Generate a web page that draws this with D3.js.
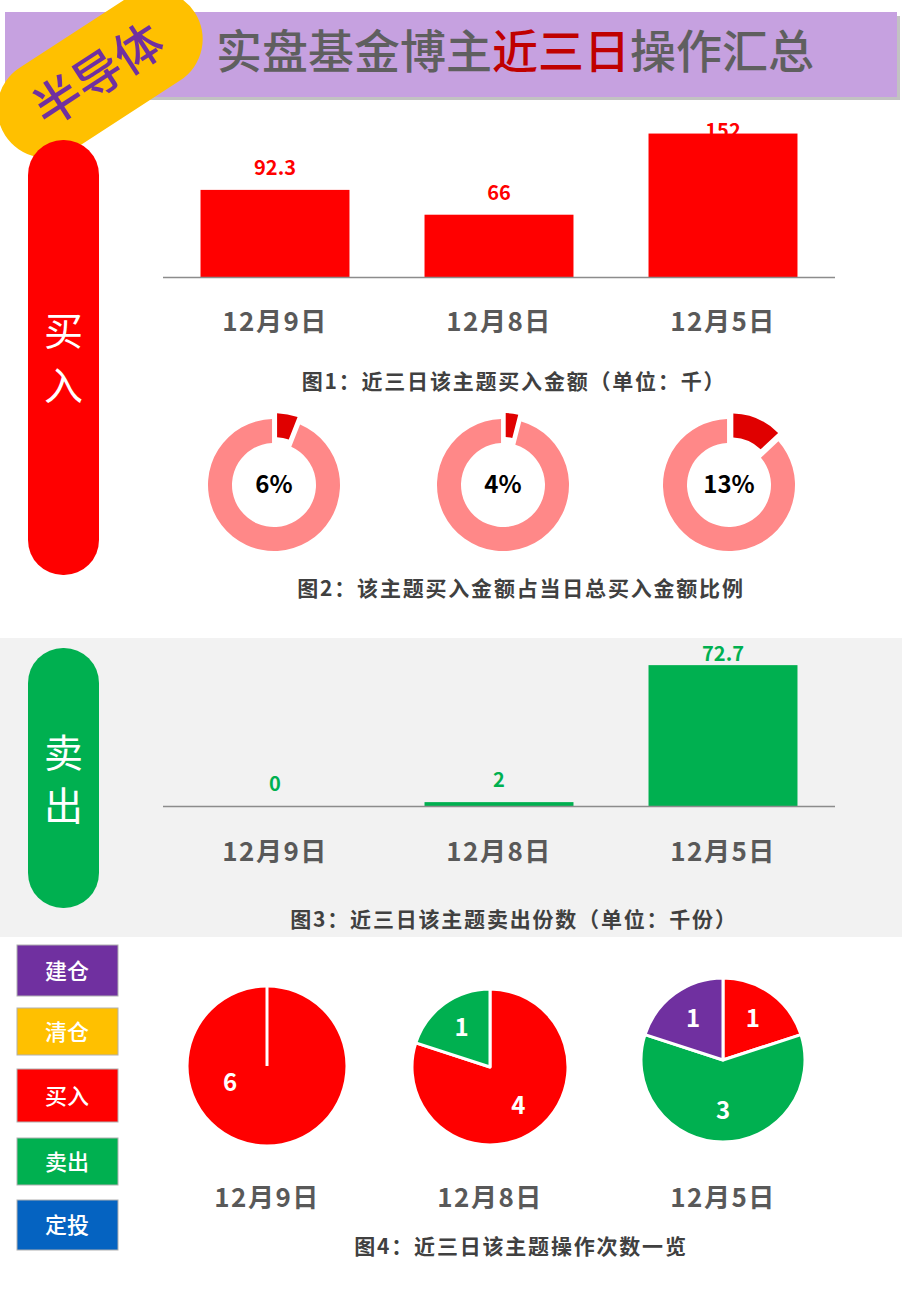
<!DOCTYPE html>
<html><head><meta charset="utf-8">
<script src="https://cdn.jsdelivr.net/npm/d3@7/dist/d3.min.js"></script>
<style>body{margin:0;background:#fff}svg{display:block}text{font-family:"Noto Sans CJK SC","Noto Sans",sans-serif}</style>
</head><body>
<svg id="c" width="902" height="1296"></svg>
<script>
const dates = ["12月9日","12月8日","12月5日"];
const buyAmount = [92.3, 66, 152];
const buyRatio = [6, 4, 13];
const sellAmount = [0, 2, 72.7];
const opTypes = ["建仓","清仓","买入","卖出","定投"];
const opColors = ["#7030A0","#FFC000","#FF0000","#00B050","#0563C1"];
const opCounts = [
  {"买入":6},
  {"买入":4,"卖出":1},
  {"买入":1,"卖出":3,"建仓":1}
];
const pieOrder = ["买入","卖出","清仓","定投","建仓"];
const captions = ["图1：近三日该主题买入金额（单位：千）","图2：该主题买入金额占当日总买入金额比例","图3：近三日该主题卖出份数（单位：千份）","图4：近三日该主题操作次数一览"];

const svg = d3.select("#c");
const grey = "#595959";

// sell section background
svg.append("rect").attr("x",0).attr("y",638).attr("width",902).attr("height",299).attr("fill","#F2F2F2");

// header
svg.append("rect").attr("x",9).attr("y",16).attr("width",891).attr("height",84).attr("fill","#9a9a9a").attr("opacity",0.6);
svg.append("rect").attr("x",5).attr("y",12).attr("width",892).attr("height",85).attr("fill","#C6A1E0");
const title = svg.append("text").attr("x",216).attr("y",68).attr("font-size",46).attr("font-weight",500).attr("fill","#5F5F5F");
title.append("tspan").text("实盘基金博主");
title.append("tspan").attr("fill","#C00000").text("近三日");
title.append("tspan").text("操作汇总");

// yellow tag
const tag = svg.append("g").attr("transform","translate(100,74) rotate(-33)");
tag.append("rect").attr("x",-113).attr("y",-49).attr("width",226).attr("height",98).attr("rx",49).attr("fill","#FFC000");
tag.append("text").attr("text-anchor","middle").attr("x",-2).attr("y",17).attr("font-size",48).attr("font-weight",500).attr("fill","#7030A0").text("半导体");

// side pills
function pill(y, h, color, label, t1, t2){
  svg.append("rect").attr("x",28).attr("y",y).attr("width",71).attr("height",h).attr("rx",35).attr("fill",color);
  svg.append("text").attr("x",63.5).attr("y",t1).attr("text-anchor","middle").attr("font-size",39).attr("fill","#fff").text(label[0]);
  svg.append("text").attr("x",63.5).attr("y",t2).attr("text-anchor","middle").attr("font-size",39).attr("fill","#fff").text(label[1]);
}
pill(140, 435, "#FF0000", "买入", 345, 400);
pill(648, 260, "#00B050", "卖出", 767, 820);

// bar charts
const x = d3.scaleBand().domain(dates).range([163,835]).paddingInner(0.335).paddingOuter(0.1675);
function barChart(values, base, yMax, topPx, color, minLabel, catY){
  const y = d3.scaleLinear().domain([0,yMax]).range([base, topPx]);
  const g = svg.append("g");
  g.selectAll("rect.bar").data(values).join("rect")
    .attr("x",(d,i)=>x(dates[i])).attr("width",x.bandwidth())
    .attr("y",d=>y(d)).attr("height",d=>base-y(d)).attr("fill",color);
  g.append("line").attr("x1",163).attr("x2",835).attr("y1",base+0.5).attr("y2",base+0.5).attr("stroke","#8c8c8c").attr("stroke-width",1.5);
  g.selectAll("text.v").data(values).join("text")
    .attr("x",(d,i)=>x(dates[i])+x.bandwidth()/2).attr("y",d=>Math.max(y(d)-15,minLabel))
    .attr("text-anchor","middle").attr("font-size",20).attr("font-weight",700).attr("fill",color).text(d=>d);
  g.selectAll("text.c").data(dates).join("text")
    .attr("x",d=>x(d)+x.bandwidth()/2).attr("y",catY)
    .attr("text-anchor","middle").attr("font-size",26).attr("letter-spacing",1.5).attr("font-weight",700).attr("fill",grey).text(d=>d);
}
barChart(buyAmount, 277, 160, 126, "#FF0000", 138, 331);
barChart(sellAmount, 806, 80, 651, "#00B050", 661, 861);

function caption(txt, cx, y){
  svg.append("text").attr("x",cx).attr("y",y).attr("text-anchor","middle").attr("font-size",21).attr("letter-spacing",1.8).attr("font-weight",700).attr("fill","#404040").text(txt);
}
caption(captions[0], 514, 389);
caption(captions[1], 521, 596);
caption(captions[2], 514, 927);
caption(captions[3], 521, 1254);

// donuts
const donutCx = [274, 503, 729];
const arcOuter = d3.arc().innerRadius(42).outerRadius(66).padAngle(0.05);
buyRatio.forEach((p,i)=>{
  const g = svg.append("g").attr("transform",`translate(${donutCx[i]},485)`);
  const pie = d3.pie().sort(null)([p, 100-p]);
  const mid = (pie[0].startAngle+pie[0].endAngle)/2;
  g.append("path").attr("d",arcOuter(pie[1])).attr("fill","#FF8888");
  g.append("path").attr("d",arcOuter(pie[0])).attr("fill","#E00000")
    .attr("transform",`translate(${Math.sin(mid)*6},${-Math.cos(mid)*6})`);
  g.append("text").attr("y",8).attr("text-anchor","middle").attr("font-size",24).attr("font-weight",700).attr("fill","#000").text(p+"%");
});

// legend
const legY = [945, 1008, 1069, 1138, 1200];
const legH = [51, 47, 53, 47, 50];
opTypes.forEach((t,i)=>{
  svg.append("rect").attr("x",17).attr("y",legY[i]).attr("width",101).attr("height",legH[i]).attr("fill",opColors[i]).attr("stroke","#b0b0b0").attr("stroke-width",1);
  svg.append("text").attr("x",67).attr("y",legY[i]+legH[i]/2+8).attr("text-anchor","middle").attr("font-size",22).attr("font-weight",500).attr("fill","#fff").text(t);
});

// pies
const pieC = [[267,1066,80],[490,1067,78],[723,1060,82]];
const colorOf = t=>opColors[opTypes.indexOf(t)];
opCounts.forEach((cnt,i)=>{
  const [cx,cy,r] = pieC[i];
  const data = pieOrder.filter(t=>cnt[t]).map(t=>({t,v:cnt[t]}));
  const arcs = d3.pie().sort(null).value(d=>d.v)(data);
  const arc = d3.arc().innerRadius(0).outerRadius(r);
  const g = svg.append("g").attr("transform",`translate(${cx},${cy})`);
  g.selectAll("path").data(arcs).join("path").attr("d",arc).attr("fill",d=>colorOf(d.data.t)).attr("stroke","#fff").attr("stroke-width",3).attr("stroke-linejoin","round");
  if(arcs.length===1){
    g.append("line").attr("x1",0).attr("y1",0).attr("x2",0).attr("y2",-r).attr("stroke","#fff").attr("stroke-width",3);
  }
  g.selectAll("text").data(arcs).join("text")
    .attr("transform",d=>{
      const rr = r*0.62;
      let [lx,ly] = d3.arc().innerRadius(rr).outerRadius(rr).centroid(d);
      if(arcs.length===1){ lx=-37; ly=17; }
      return `translate(${lx},${ly+8})`;
    })
    .attr("text-anchor","middle").attr("font-size",24).attr("font-weight",700).attr("fill","#fff").text(d=>d.data.v);
  svg.append("text").attr("x",cx).attr("y",1207).attr("text-anchor","middle").attr("font-size",26).attr("letter-spacing",1.5).attr("font-weight",700).attr("fill",grey).text(dates[i]);
});
</script>
</body></html>
